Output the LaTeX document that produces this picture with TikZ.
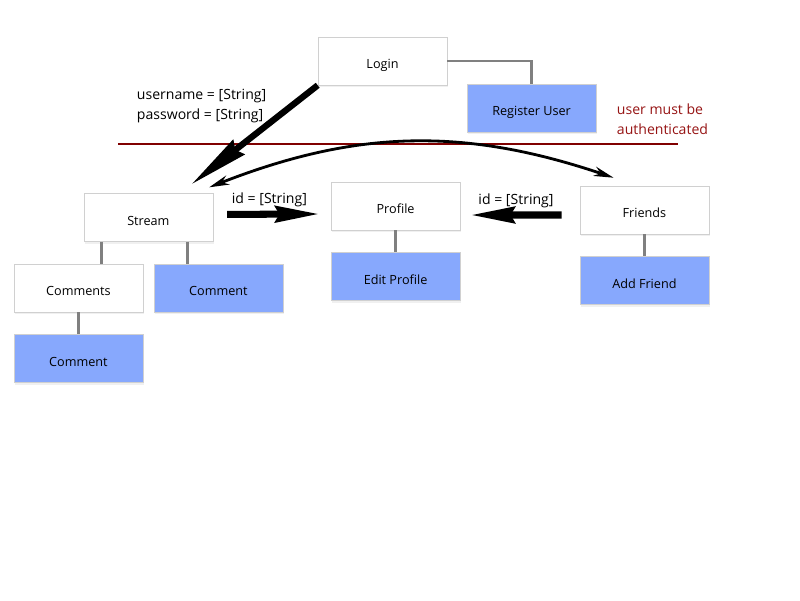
\documentclass[tikz,border=0pt]{standalone}
\usepackage{fontspec}
\setmainfont{Open Sans}
\usepackage{tikz}
\usetikzlibrary{arrows.meta, positioning, shadows}

\definecolor{boxblue}{RGB}{135,168,253}
\definecolor{boxline}{RGB}{208,208,208}
\definecolor{linkgray}{RGB}{128,128,128}
\definecolor{darkred}{RGB}{128,0,0}
\definecolor{notered}{RGB}{150,20,20}

\begin{document}
\begin{tikzpicture}[
    box/.style={draw=boxline, fill=white, minimum width=3.225cm, minimum height=1.2cm,
        font=\fontsize{9}{11}\selectfont, text height=2.1ex, text depth=0.1ex,
        drop shadow={opacity=0.12, shadow xshift=0.03cm, shadow yshift=-0.06cm}}, % Page boxes
    actbox/.style={box, fill=boxblue}, % Action boxes
    link/.style={draw=linkgray, line width=2pt}, % Tree links
    bigarrow/.style={-{Stealth[length=11mm, width=4mm, inset=1mm]}, line width=5pt}, % Passing data
    navarrow/.style={{Stealth[length=5mm, width=2.4mm]}-{Stealth[length=5mm, width=2.4mm]}, line width=2pt},
    datatext/.style={font=\fontsize{10}{14}\selectfont, align=left},
    node distance=0.55cm and 0.3cm
]
    \useasboundingbox (0,0) rectangle (20,-15);

    % Top level
    \node (login) [box] at (9.5625,-1.525) {Login};
    \node (register) [actbox] at (13.29,-2.7) {Register User};

    % Pages after login
    \node (stream) [box] at (3.71,-5.44) {Stream};
    \node (profile) [box] at (9.89,-5.15) {Profile};
    \node (friends) [box] at (16.11,-5.25) {Friends};

    % Children
    \node (comments) [box] at (1.96,-7.2) {Comments};
    \node (comment) [actbox] at (5.46,-7.2) {Comment};
    \node (subcomment) [actbox, below= of comments] {Comment};
    \node (editprofile) [actbox, below= of profile] {Edit Profile};
    \node (addfriend) [actbox, below= of friends] {Add Friend};

    % Texts
    \node (creds) [datatext, anchor=west] at (3.3,-2.65) {username = [String]\\password = [String]};
    \node (authnote) [datatext, anchor=west, text=notered] at (15.3,-2.98) {user must be\\authenticated};

    % Tree links
    \draw[link] (login.east) -| (register.north);
    \draw[link] (stream.south -| comments.north east) ++(-1.05,0) coordinate (s1) -- (s1 |- comments.north);
    \draw[link] (stream.south -| comment.north west) ++(0.85,0) coordinate (s2) -- (s2 |- comment.north);
    \draw[link] (comments) -- (subcomment);
    \draw[link] (profile) -- (editprofile);
    \draw[link] (friends) -- (addfriend);

    % Authentication line
    \draw[darkred, line width=1.7pt] (2.95,-3.6) -- (16.95,-3.6);

    % Arrows
    \draw[bigarrow, -{Stealth[length=15mm, width=4.5mm, inset=1mm]}, line width=4.5pt]
        (login.south west) -- ([xshift=-0.55cm,yshift=0.22cm]stream.north east);
    \draw[navarrow] ([xshift=-0.1cm,yshift=0.15cm]stream.north east) to[bend left=20] ([xshift=0.85cm,yshift=0.2cm]friends.north west);
    \draw[bigarrow] ([xshift=0.35cm,yshift=0.08cm]stream.east) -- ([xshift=-0.28cm,yshift=-0.2cm]profile.west)
        node[datatext, midway, above, xshift=-0.1cm, yshift=-0.02cm] {id = [String]};
    \draw[bigarrow] ([xshift=-0.45cm,yshift=-0.125cm]friends.west) -- ([xshift=0.25cm,yshift=-0.225cm]profile.east)
        node[datatext, midway, above, yshift=-0.02cm] {id = [String]};

\end{tikzpicture}
\end{document}
